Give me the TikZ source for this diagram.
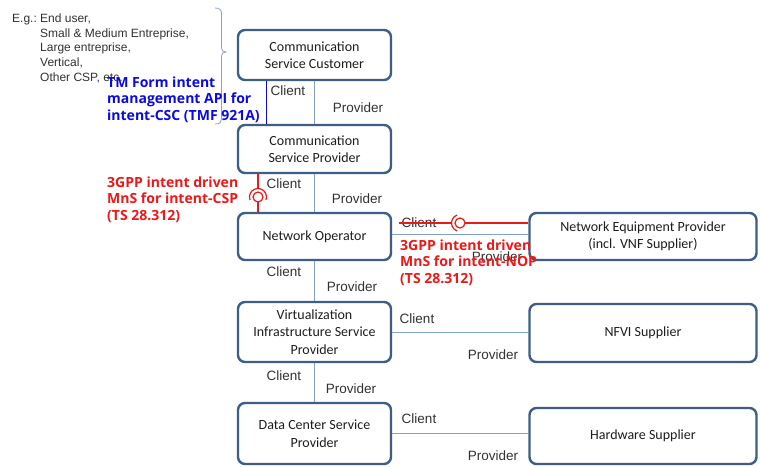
\documentclass[tikz,border=0pt]{standalone}
\usepackage{fontspec}
\usetikzlibrary{calc}
\setmainfont{Liberation Sans}
\newfontfamily\boxfont{Carlito}
\newfontfamily\notefont{Open Sans}
\definecolor{boxc}{RGB}{62,94,132}
\definecolor{linkc}{RGB}{130,160,200}
\definecolor{lbltext}{RGB}{50,50,50}
\definecolor{boxtext}{RGB}{30,30,30}
\definecolor{bluec}{RGB}{10,10,225}
\definecolor{redc}{RGB}{235,25,25}
\definecolor{bracec}{RGB}{140,165,195}
\begin{document}
\begin{tikzpicture}[x=1pt,y=1pt,
  ent/.style={draw=boxc, line width=2.4pt, rounded corners=7pt, fill=white, align=center,
    font=\boxfont\fontsize{14}{17.5}\selectfont, text=boxtext, inner sep=0pt},
  lnk/.style={draw=linkc, line width=0.9pt},
  lbl/.style={font=\fontsize{13.5}{16}\selectfont, text=lbltext, inner sep=0pt},
  note/.style={font=\notefont\bfseries\fontsize{14}{16.5}\selectfont, inner sep=0pt, anchor=base west},
  bluelink/.style={draw=bluec, line width=1.2pt},
  redlink/.style={draw=redc, line width=1.2pt}]
\useasboundingbox (0,0) rectangle (760,-466);

% brace and examples
\draw[bracec, line width=0.8pt] (215,-8) .. controls (220,-8) and (221.5,-10) .. (221.5,-14) -- (221.5,-48)
  .. controls (221.5,-50.5) and (223,-52) .. (226,-52) .. controls (223,-52) and (221.5,-53.5) .. (221.5,-56)
  -- (221.5,-119) .. controls (221.5,-122) and (220,-124) .. (215,-124);
\node[inner sep=0pt, anchor=base west, text=lbltext, font=\fontsize{12}{14.7}\selectfont] (eg) at (12,-22.3)
  {\begin{tabular}[t]{@{}l@{\hspace{3.3pt}}l@{}}E.g.: & End user,\\ & Small \& Medium Entreprise,\\ & Large entreprise,\\ & Vertical,\\ & Other CSP, etc.\end{tabular}};

% entities
\node[ent, minimum width=153, minimum height=50] (csc) at (314.5,-55) {Communication\\Service Customer};
\node[ent, minimum width=153, minimum height=48] (csp) at (314.5,-149) {Communication\\Service Provider};
\node[ent, minimum width=153, minimum height=47] (no) at (314.5,-236.5) {Network Operator};
\node[ent, minimum width=153, minimum height=60] (visp) at (314.5,-332) {Virtualization\\Infrastructure Service\\Provider};
\node[ent, minimum width=153, minimum height=61] (dcsp) at (314.5,-433.5) {Data Center Service\\Provider};
\node[ent, minimum width=227, minimum height=47] (nep) at (643,-236.5) {Network Equipment Provider\\(incl. VNF Supplier)};
\node[ent, minimum width=227, minimum height=58] (nfvi) at (643,-333) {NFVI Supplier};
\node[ent, minimum width=227, minimum height=56] (hw) at (643,-436) {Hardware Supplier};

% client/provider links
\draw[lnk] (csc) -- (csp);
\draw[lnk] (csp) -- (no);
\draw[lnk] (no) -- (visp);
\draw[lnk] (visp) -- (dcsp);
\draw[lnk] ([yshift=2.5]no.east) -- ([yshift=2.5]nep.west);
\draw[lnk] (visp.east) -- (visp.east -| nfvi.west);
\draw[lnk] (dcsp.east) -- (dcsp.east -| hw.west);

\node[lbl] (c1) at (288,-91) {Client};
\node[lbl] (p1) at (358,-108) {Provider};
\node[lbl] (c2) at (284,-184) {Client};
\node[lbl] (p2) at (357,-199) {Provider};
\node[lbl] (c3) at (284,-272) {Client};
\node[lbl] (p3) at (352,-287) {Provider};
\node[lbl] (c4) at (284,-376) {Client};
\node[lbl] (p4) at (351,-389) {Provider};
\node[lbl] (c5) at (419,-223) {Client};
\node[lbl] (p5) at (497,-257) {Provider};
\node[lbl] (c6) at (417,-319) {Client};
\node[lbl] (p6) at (493,-355) {Provider};
\node[lbl] (c7) at (419,-419) {Client};
\node[lbl] (p7) at (493,-456) {Provider};

% TM Forum API (blue)
\draw[bluelink] ([xshift=-48]csc.south) -- ([xshift=-48]csp.north);
\node[note, text=bluec] (tmf) at (107,-87)
  {\begin{tabular}[t]{@{}l@{}}TM Form intent\\ management API for\\ intent-CSC (TMF 921A)\end{tabular}};

% 3GPP intent-CSP (red, vertical)
\coordinate (ballV) at (258,-197);
\draw[redlink] ([xshift=-56.5]csp.south) -- ($(ballV)+(0,8.5)$);
\draw[redlink] ($(ballV)+(-20:8.5)$) arc[start angle=-20, end angle=200, radius=8.5];
\draw[redlink] (ballV) circle[radius=5];
\draw[redlink] ($(ballV)+(0,-5)$) -- ([xshift=-56.5]no.north);
\node[note, text=redc] (csptxt) at (107,-187)
  {\begin{tabular}[t]{@{}l@{}}3GPP intent driven\\ MnS for intent-CSP\\ (TS 28.312)\end{tabular}};

% 3GPP intent-NOP (red, horizontal)
\coordinate (ballH) at (460,-223);
\draw[redlink] ([xshift=7,yshift=13.5]no.east) -- ($(ballH)+(-8.5,0)$);
\draw[redlink] ($(ballH)+(110:8.5)$) arc[start angle=110, end angle=250, radius=8.5];
\draw[redlink] (ballH) circle[radius=5];
\draw[redlink] ($(ballH)+(5,0)$) -- (nep.west |- ballH);
\node[note, text=redc] (noptxt) at (400,-250)
  {\begin{tabular}[t]{@{}l@{}}3GPP intent driven\\ MnS for intent-NOP\\ (TS 28.312)\end{tabular}};
\end{tikzpicture}
\end{document}
